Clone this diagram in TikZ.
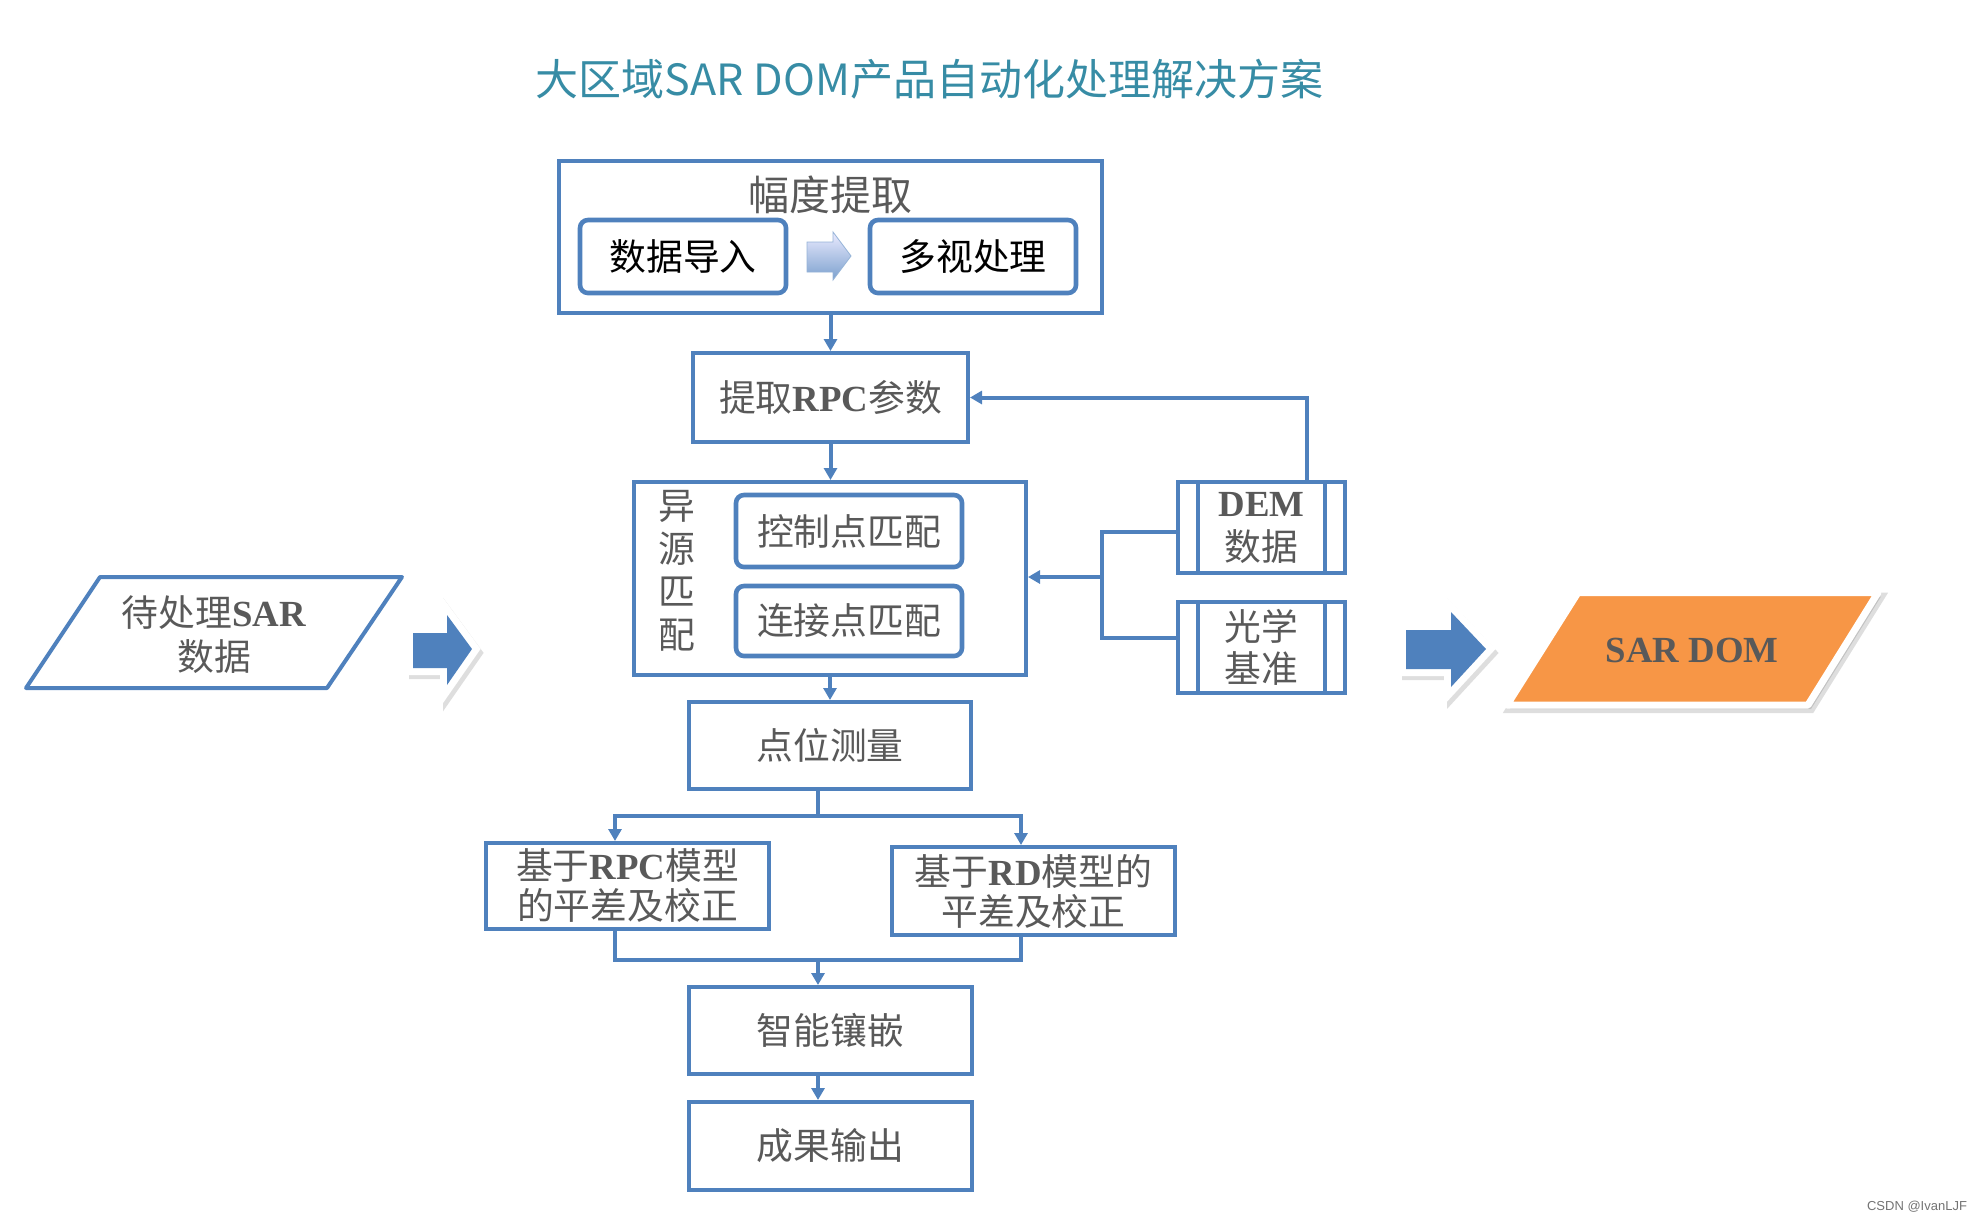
\documentclass[tikz,border=0pt]{standalone}
\usepackage{fontspec}
\setmainfont{Noto Sans CJK SC}
\newfontfamily\tnr{Liberation Serif}
\newfontfamily\wmfont{Liberation Sans}
\usetikzlibrary{arrows.meta}
\definecolor{boxblue}{RGB}{79,129,189}
\definecolor{txtgray}{RGB}{89,89,89}
\definecolor{domorange}{RGB}{247,150,70}
\definecolor{titleteal}{RGB}{55,140,165}
\newcommand{\lat}[1]{{\tnr\bfseries #1}}

\begin{document}
\begin{tikzpicture}[x=0.5pt, y=-0.5pt, >={Triangle[width=6.5pt, length=6pt]},
    box/.style={draw=boxblue, line width=2pt, text=txtgray, align=center, inner sep=0pt,
        font=\fontsize{18.4pt}{20pt}\selectfont},
    rbox/.style={box, rounded corners=4pt, line width=2.3pt},
    plain/.style={text=txtgray, align=center, inner sep=0pt, font=\fontsize{18.4pt}{21pt}\selectfont},
    link/.style={draw=boxblue, line width=2pt},
    softshadow/.style={preaction={fill=black, draw=black, fill opacity=0.13, draw opacity=0.13,
        line width=#1, transform canvas={xshift=1.5pt, yshift=-2pt}}},
    blockarrow/.style={softshadow=7pt, preaction={draw=white, line width=7pt, line join=miter},
        fill=boxblue}]
    \useasboundingbox (0,0) rectangle (1974,1222);

    % Title
    \node[text=titleteal, font=\fontsize{21.5pt}{24pt}\selectfont] (title) at (929.5, 79)
        {大区域SAR DOM产品自动化处理解决方案};

    % Nodes
    \node[box, minimum width=271.5pt, minimum height=76pt] (amp) at (830.5, 237) {};
    \node[plain, font=\fontsize{20.5pt}{24pt}\selectfont] (amplabel) at (830.5, 195) {幅度提取};
    \node[rbox, text=black, minimum width=103pt, minimum height=36.5pt] (imp) at (683, 256.5) {数据导入};
    \node[rbox, text=black, minimum width=103pt, minimum height=36.5pt] (mlk) at (973, 256.5) {多视处理};
    \shade[top color=blue!8!white, bottom color=boxblue!75, draw=boxblue!60, line width=0.4pt]
        (807,242) -- (833,242) -- (833,232) -- (851,256) -- (833,280) -- (833,272) -- (807,272) -- cycle;

    \node[box, minimum width=137.5pt, minimum height=44.5pt] (rpc) at (830.5, 397.5) {提取\lat{RPC}参数};

    \node[box, minimum width=196pt, minimum height=96.5pt] (match) at (830, 578.5) {};
    \node[plain, font=\fontsize{18.4pt}{21.5pt}\selectfont] (matchlabel) at (677, 571) {异\\源\\匹\\配};
    \node[rbox, minimum width=113pt, minimum height=36pt] (cpm) at (849, 531) {控制点匹配};
    \node[rbox, minimum width=113pt, minimum height=35pt] (tpm) at (849, 621) {连接点匹配};

    \node[box, font=\fontsize{18.4pt}{22pt}\selectfont, minimum width=83.5pt, minimum height=45.5pt] (dem) at (1261.5, 527.5) {\lat{DEM}\\数据};
    \node[box, font=\fontsize{18.4pt}{21pt}\selectfont, minimum width=83.5pt, minimum height=45.5pt] (opt) at (1261.5, 647.5) {光学\\基准};
    \draw[link] ([xshift=11pt]dem.north west) -- ([xshift=11pt]dem.south west);
    \draw[link] ([xshift=-11pt]dem.north east) -- ([xshift=-11pt]dem.south east);
    \draw[link] ([xshift=11pt]opt.north west) -- ([xshift=11pt]opt.south west);
    \draw[link] ([xshift=-11pt]opt.north east) -- ([xshift=-11pt]opt.south east);

    % Input and output data
    \draw[link, line join=round] (100,577) -- (402,577) -- (327,688) -- (26,688) -- cycle;
    \node[plain, font=\fontsize{18.4pt}{22pt}\selectfont] (sar) at (214, 635) {待处理\lat{SAR}\\数据};
    \path[blockarrow] (413,633) -- (447,633) -- (447,615) -- (472,649) -- (447,685) -- (447,668) -- (413,668) -- cycle;
    \path[blockarrow] (1406,630) -- (1451,630) -- (1451,612) -- (1486,649) -- (1451,687) -- (1451,669) -- (1406,669) -- cycle;
    \path[softshadow=4pt, fill=domorange, draw=white, line width=3.5pt, line join=round]
        (1578,592.5) -- (1878,592.5) -- (1808,705) -- (1507,705) -- cycle;
    \node[plain] (dom) at (1692, 650) {\lat{SAR DOM}};

    \node[box, minimum width=141pt, minimum height=43.5pt] (pos) at (830, 745.5) {点位测量};
    \node[box, minimum width=141.5pt, minimum height=43pt] (adjrpc) at (627.5, 886) {基于\lat{RPC}模型\\的平差及校正};
    \node[box, minimum width=141.5pt, minimum height=44pt] (adjrd) at (1033.5, 891) {基于\lat{RD}模型的\\平差及校正};
    \node[box, minimum width=141.5pt, minimum height=43.5pt] (mos) at (830.5, 1030.5) {智能镶嵌};
    \node[box, minimum width=141.5pt, minimum height=44pt] (out) at (830.5, 1146) {成果输出};

    % Edges
    \draw[link, ->] (amp) -- (rpc);
    \draw[link, ->] (rpc.south) -- (rpc.south |- match.north);
    \draw[link, ->] (match.south) -- (match.south |- pos.north);
    \draw[link, ->] ([xshift=22.75pt]dem.north) |- (rpc.east);

    \coordinate (br) at (1102, 577);
    \draw[link] ([yshift=-2pt]dem.west) -| (br);
    \draw[link] ([yshift=5pt]opt.west) -| (br);
    \draw[link, ->] (br) -- (br -| match.east);

    \coordinate (sp) at (818, 816);
    \draw[link] ([xshift=-6pt]pos.south) -- (sp);
    \draw[link, ->] (sp) -| ([xshift=-6.25pt]adjrpc.north);
    \draw[link, ->] (sp) -| ([xshift=-6.25pt]adjrd.north);

    \coordinate (mg) at (818, 960);
    \draw[link] ([xshift=-6.25pt]adjrpc.south) |- (mg) -| ([xshift=-6.25pt]adjrd.south);
    \draw[link, ->] (mg) -- (mg |- mos.north);
    \draw[link, ->] (mg |- mos.south) -- (mg |- out.north);

    % Watermark
    \node[text=black!55, font=\wmfont\fontsize{6.5pt}{8pt}\selectfont] (mark) at (1917, 1207) {CSDN @IvanLJF};
\end{tikzpicture}
\end{document}
